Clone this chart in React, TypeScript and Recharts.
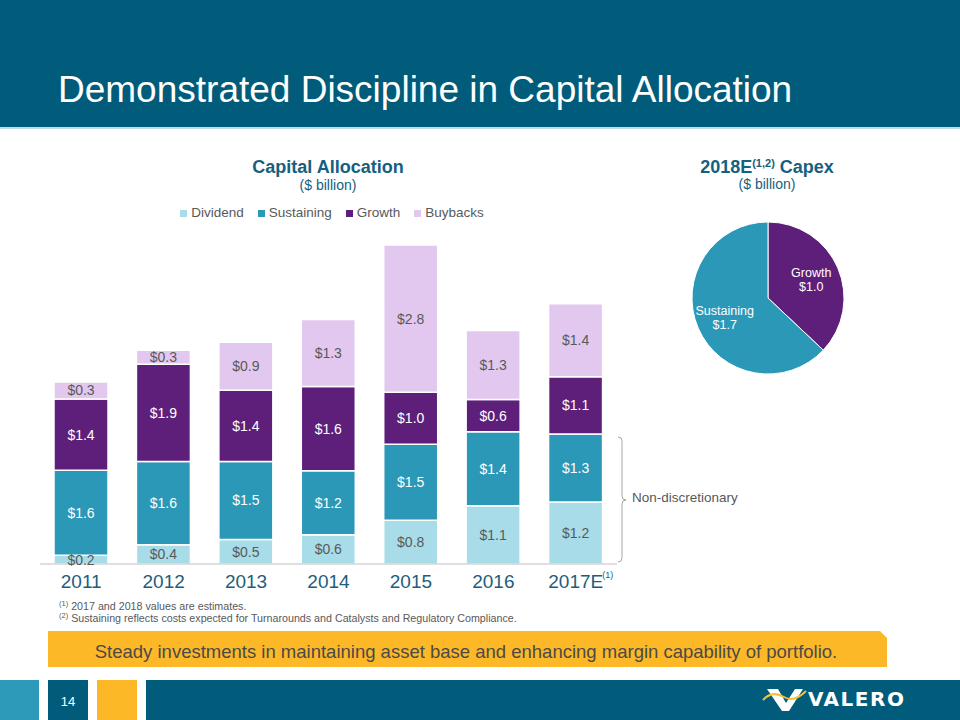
import React from 'react';
import { BarChart, Bar, XAxis, YAxis, LabelList, PieChart, Pie, Cell } from 'recharts';

const years = ['2011', '2012', '2013', '2014', '2015', '2016', '2017E'];
const dividend = [0.17, 0.37, 0.47, 0.56, 0.84, 1.12, 1.19];
const sustaining = [1.63, 1.6, 1.5, 1.23, 1.46, 1.42, 1.31];
const growth = [1.37, 1.87, 1.37, 1.62, 1.0, 0.62, 1.1];
const buybacks = [0.33, 0.27, 0.92, 1.29, 2.83, 1.33, 1.4];

const seriesNames = ['Dividend', 'Sustaining', 'Growth', 'Buybacks'];
const pieNames = ['Growth', 'Sustaining'];
const pieValues = [1.0, 1.7];

const FONT = '"Liberation Sans", Arial, sans-serif';
const TEAL_TEXT = '#16607F';
const GRAY = '#595959';
const seriesKeys = ['dividend', 'sustaining', 'growth', 'buybacks'];
const seriesColors = ['#A8DCE8', '#2B98B8', '#5E1F7A', '#E2C8EE'];
const labelColors = [GRAY, '#FFFFFF', '#FFFFFF', GRAY];
const pieColors = ['#5E1F7A', '#2B98B8'];

const barData = years.map((y, i) => ({
  year: y,
  dividend: dividend[i],
  sustaining: sustaining[i],
  growth: growth[i],
  buybacks: buybacks[i],
}));
const pieData = pieNames.map((n, i) => ({ name: n, value: pieValues[i] }));

const fmt = (v: any) => `$${Number(v).toFixed(1)}`;

const YearTick = (props: any) => {
  const { x, y, payload } = props;
  return (
    <g>
      <text x={x} y={y} dy={24} textAnchor="middle" fontSize={19} fill="#1E5E7C" fontFamily={FONT}>
        {payload.value}
      </text>
      {payload.value === '2017E' && (
        <text x={x + 32} y={y} dy={14} textAnchor="middle" fontSize={9} fill="#1E5E7C" fontFamily={FONT}>
          (1)
        </text>
      )}
    </g>
  );
};

const RADIAN = Math.PI / 180;
const PieLabel = (props: any) => {
  const { cx, cy, midAngle, outerRadius, name, value } = props;
  const r = outerRadius * 0.62;
  const x = cx + r * Math.cos(-midAngle * RADIAN);
  const y = cy + r * Math.sin(-midAngle * RADIAN);
  return (
    <text x={x} y={y} textAnchor="middle" fontSize={12.5} fill="#FFFFFF" fontFamily={FONT}>
      <tspan x={x} dy={-2}>{name}</tspan>
      <tspan x={x} dy={14}>{fmt(value)}</tspan>
    </text>
  );
};

const Txt = ({ cx, left, cy, size, color, bold, children, width = 400 }: any) => {
  const style: any = {
    position: 'absolute',
    top: cy - size / 2,
    height: size,
    lineHeight: `${size}px`,
    fontSize: size,
    color,
    fontWeight: bold ? 'bold' : 'normal',
    whiteSpace: 'nowrap',
    fontFamily: FONT,
  };
  if (cx !== undefined) {
    style.left = cx - width / 2;
    style.width = width;
    style.textAlign = 'center';
  } else {
    style.left = left;
  }
  return <div style={style}>{children}</div>;
};

const supStyle: any = { fontSize: 7.5, position: 'relative', top: -4, lineHeight: 0 };

export default function App() {
  return (
    <div
      style={{
        position: 'absolute',
        left: 0,
        top: 0,
        width: 960,
        height: 720,
        background: '#FFFFFF',
        overflow: 'hidden',
        fontFamily: FONT,
      }}
    >
      {/* header */}
      <div style={{ position: 'absolute', left: 0, top: 0, width: 960, height: 127, background: '#005C7A' }} />
      <div style={{ position: 'absolute', left: 0, top: 127, width: 960, height: 2, background: '#BFDDE7' }} />
      <Txt left={58} cy={89} size={37} color="#FFFFFF">
        Demonstrated Discipline in Capital Allocation
      </Txt>

      {/* chart titles */}
      <Txt cx={328} cy={167} size={18} color={TEAL_TEXT} bold>
        Capital Allocation
      </Txt>
      <Txt cx={328} cy={185} size={14} color={TEAL_TEXT}>
        ($ billion)
      </Txt>
      <Txt cx={767} cy={167} size={18} color={TEAL_TEXT} bold>
        2018E<sup style={{ fontSize: 11, verticalAlign: 'top', lineHeight: '11px' }}>(1,2)</sup> Capex
      </Txt>
      <Txt cx={767} cy={184} size={14} color={TEAL_TEXT}>
        ($ billion)
      </Txt>

      {/* legend */}
      <div
        style={{
          position: 'absolute',
          left: 0,
          width: 664,
          top: 205,
          height: 16,
          display: 'flex',
          justifyContent: 'center',
          fontSize: 13.5,
          lineHeight: '16px',
          color: GRAY,
          fontFamily: FONT,
        }}
      >
        {seriesNames.map((n, i) => (
          <div key={n} style={{ display: 'flex', alignItems: 'center', marginRight: i < 3 ? 14 : 0 }}>
            <div style={{ width: 7, height: 7, background: seriesColors[i], marginRight: 4 }} />
            <span>{n}</span>
          </div>
        ))}
      </div>

      {/* bar chart */}
      <div style={{ position: 'absolute', left: 0, top: 140 }}>
        <BarChart
          width={660}
          height={460}
          data={barData}
          margin={{ top: 91, right: 43, left: 40, bottom: 6 }}
          barSize={54}
        >
          <YAxis hide domain={[0, 6.4]} type="number" allowDataOverflow />
          <XAxis
            dataKey="year"
            axisLine={{ stroke: '#BFBFBF', strokeWidth: 1 }}
            tickLine={false}
            tickSize={0}
            tickMargin={0}
            height={30}
            interval={0}
            tick={<YearTick />}
          />
          {seriesKeys.map((k, i) => (
            <Bar
              key={k}
              dataKey={k}
              name={seriesNames[i]}
              stackId="a"
              fill={seriesColors[i]}
              stroke="#FFFFFF"
              strokeWidth={1.5}
              isAnimationActive={false}
            >
              <LabelList
                dataKey={k}
                position="center"
                formatter={fmt}
                fill={labelColors[i]}
                stroke="none"
                fontSize={14}
                fontFamily={FONT}
              />
            </Bar>
          ))}
        </BarChart>
      </div>

      {/* bracket */}
      <svg style={{ position: 'absolute', left: 0, top: 0 }} width={960} height={720}>
        <path
          d="M618,437 Q622,437 622,441 L622,496 Q622,500 626,500 Q622,500 622,504 L622,558 Q622,562 618,562"
          fill="none"
          stroke="#A6A6A6"
          strokeWidth={1}
        />
      </svg>
      <Txt left={632} cy={498} size={13.5} color={GRAY}>
        Non-discretionary
      </Txt>

      {/* pie chart */}
      <div style={{ position: 'absolute', left: 660, top: 200 }}>
        <PieChart width={220} height={200} margin={{ top: 0, right: 0, bottom: 0, left: 0 }}>
          <Pie
            data={pieData}
            dataKey="value"
            nameKey="name"
            cx={108}
            cy={98}
            outerRadius={76}
            startAngle={90}
            endAngle={-270}
            stroke="#FFFFFF"
            strokeWidth={1}
            isAnimationActive={false}
            label={PieLabel}
            labelLine={false}
          >
            {pieData.map((d, i) => (
              <Cell key={d.name} fill={pieColors[i]} />
            ))}
          </Pie>
        </PieChart>
      </div>

      {/* footnotes */}
      <div style={{ position: 'absolute', left: 59, top: 600, fontSize: 10.7, lineHeight: '12px', color: GRAY, fontFamily: FONT, whiteSpace: 'nowrap' }}>
        <div>
          <span style={supStyle}>(1)</span> 2017 and 2018 values are estimates.
        </div>
        <div>
          <span style={supStyle}>(2)</span> Sustaining reflects costs expected for Turnarounds and Catalysts and Regulatory Compliance.
        </div>
      </div>

      {/* banner */}
      <svg style={{ position: 'absolute', left: 0, top: 0 }} width={960} height={720}>
        <polygon points="48,631 880,631 887,638 887,667 48,667" fill="#FDB827" />
        {/* footer */}
        <rect x={0} y={680} width={39} height={40} fill="#2E9AB9" />
        <rect x={48} y={680} width={40} height={40} fill="#005C7A" />
        <rect x={97} y={680} width={40} height={40} fill="#FDB827" />
        <rect x={146} y={680} width={814} height={40} fill="#005C7A" />
        <text x={68} y={706} textAnchor="middle" fontSize={13} fill="#FFFFFF" fontFamily={FONT}>
          14
        </text>
        {/* logo */}
        <polygon points="767,689 778,689 786,703 795,689 803,689 789,711 782,711" fill="#FFFFFF" />
        <path d="M763,700 Q772,690 784,697 Q794,703 806,691" fill="none" stroke="#F2C230" strokeWidth={2} />
        <text x={808} y={706} fontSize={20} fontWeight="bold" fill="#FFFFFF" fontFamily='"DejaVu Sans", sans-serif' letterSpacing={1.5}>
          VALERO
        </text>
      </svg>
      <Txt cx={466} cy={652} size={18.5} color="#4A4A4A" width={840}>
        Steady investments in maintaining asset base and enhancing margin capability of portfolio.
      </Txt>
    </div>
  );
}
